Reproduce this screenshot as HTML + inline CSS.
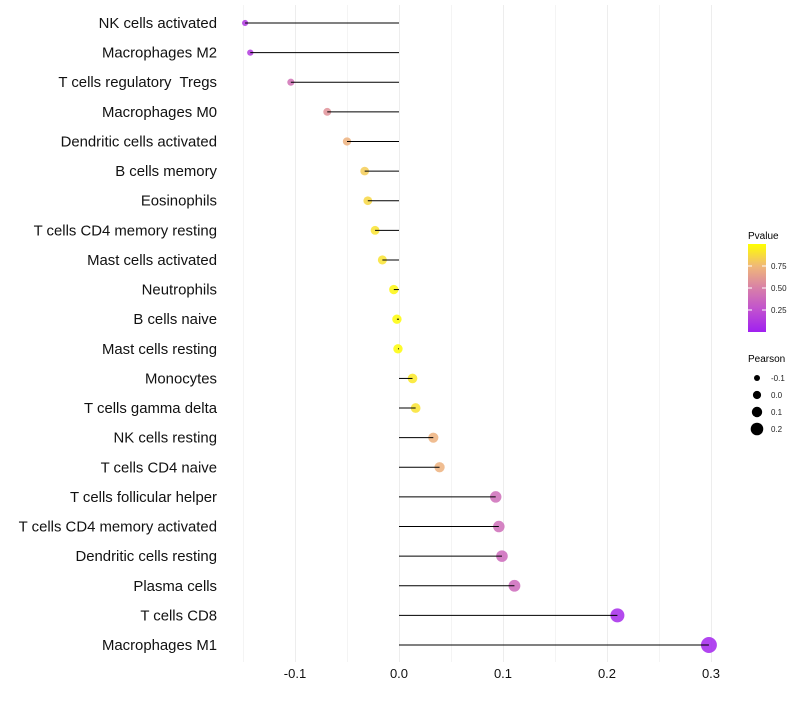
<!DOCTYPE html>
<html><head><meta charset="utf-8"><style>
body{margin:0;background:#fff;font-family:"Liberation Sans",sans-serif}
</style></head><body>
<svg id="c" width="800" height="700" xmlns="http://www.w3.org/2000/svg" style="font-family:'Liberation Sans',sans-serif">
<defs><linearGradient id="pg" x1="0" y1="1" x2="0" y2="0">
<stop offset="0" stop-color="#a020f0"/><stop offset="0.25" stop-color="#c050d0"/><stop offset="0.5" stop-color="#d880a8"/><stop offset="0.75" stop-color="#f0b878"/><stop offset="1" stop-color="#ffff00"/></linearGradient></defs>
<g id="grid"></g><g id="marks"></g><g id="labels"></g>
<g id="legend">
<text x="748" y="239" font-size="10" fill="#000">Pvalue</text>
<rect x="748" y="244" width="18" height="88" fill="url(#pg)"/>
<g id="cbticks"></g>
<text x="748" y="362" font-size="10" fill="#000">Pearson</text>
<g id="sizeleg"></g>
</g>
</svg>
<script>
const categories=["NK cells activated","Macrophages M2","T cells regulatory  Tregs","Macrophages M0","Dendritic cells activated","B cells memory","Eosinophils","T cells CD4 memory resting","Mast cells activated","Neutrophils","B cells naive","Mast cells resting","Monocytes","T cells gamma delta","NK cells resting","T cells CD4 naive","T cells follicular helper","T cells CD4 memory activated","Dendritic cells resting","Plasma cells","T cells CD8","Macrophages M1"];
const pearson=[-0.148,-0.143,-0.104,-0.069,-0.050,-0.033,-0.030,-0.023,-0.016,-0.005,-0.002,-0.001,0.013,0.016,0.033,0.039,0.093,0.096,0.099,0.111,0.210,0.298];
const pvalue=[0.12,0.14,0.42,0.58,0.72,0.82,0.86,0.9,0.9,0.97,0.99,0.99,0.92,0.9,0.72,0.72,0.4,0.4,0.38,0.38,0.05,0.02];
const xTicks=[-0.1,0.0,0.1,0.2,0.3];
const xMinor=[-0.15,-0.05,0.05,0.15,0.25];
const cbTicks=[0.25,0.5,0.75];
const sizeLegend=[-0.1,0.0,0.1,0.2];
const NS="http://www.w3.org/2000/svg";
const X=v=>399+v*1040;
const Y=i=>23+i*(622/21);
const R=v=>Math.max(2.2,4.7+11*v);
const stops=[[0,[160,32,240]],[0.25,[192,80,208]],[0.5,[216,128,168]],[0.75,[240,184,120]],[1,[255,255,0]]];
function col(p){for(let k=1;k<stops.length;k++){if(p<=stops[k][0]){const[a,c1]=stops[k-1],[b,c2]=stops[k];const t=(p-a)/(b-a);return "rgb("+c1.map((c,j)=>Math.round(c+(c2[j]-c)*t)).join(",")+")";}}return "rgb(255,255,0)";}
function el(t,at,p){const e=document.createElementNS(NS,t);for(const k in at)e.setAttribute(k,at[k]);p.appendChild(e);return e;}
const grid=document.getElementById('grid'),marks=document.getElementById('marks'),labels=document.getElementById('labels');
xMinor.forEach(v=>{const x=Math.round(X(v))+0.5;const l=el('line',{x1:x,x2:x,y1:5,y2:662,stroke:'#f4f4f4','stroke-width':1},grid);

});
xTicks.forEach(v=>{const x=Math.round(X(v))+0.5;const l=el('line',{x1:x,x2:x,y1:5,y2:662,stroke:'#ededed','stroke-width':1},grid);

});
xTicks.forEach(v=>{const t=el('text',{x:X(v),y:678,'font-size':13,'text-anchor':'middle',fill:'#111'},labels);t.textContent=v.toFixed(1);

});
categories.forEach((c,i)=>{const t=el('text',{x:217,y:Y(i)+5,'font-size':14.9,'text-anchor':'end',fill:'#111'},labels);t.textContent=c;


t.setAttribute('xml:space','preserve');t.style.whiteSpace='pre';
const pt=el('circle',{cx:X(pearson[i]),cy:Y(i),r:R(pearson[i]),fill:col(pvalue[i]),'fill-opacity':0.85},marks);

});
categories.forEach((c,i)=>{const s=el('line',{x1:X(0),x2:X(pearson[i]),y1:Y(i),y2:Y(i),stroke:'#000','stroke-width':1},marks);

});
const cb=document.getElementById('cbticks');
cbTicks.forEach(v=>{const y=332-v*88;el('line',{x1:748,x2:752,y1:y,y2:y,stroke:'#fff'},cb);el('line',{x1:762,x2:766,y1:y,y2:y,stroke:'#fff'},cb);
const t=el('text',{x:771,y:y+3,'font-size':8,fill:'#222'},cb);t.textContent=v.toFixed(2);

});
const sl=document.getElementById('sizeleg');
sizeLegend.forEach((v,k)=>{const y=378+k*17;const c=el('circle',{cx:757,cy:y,r:R(v)-0.6,fill:'#000'},sl);


const t=el('text',{x:771,y:y+3,'font-size':8,fill:'#222'},sl);t.textContent=v.toFixed(1);

});
</script>
</body></html>
